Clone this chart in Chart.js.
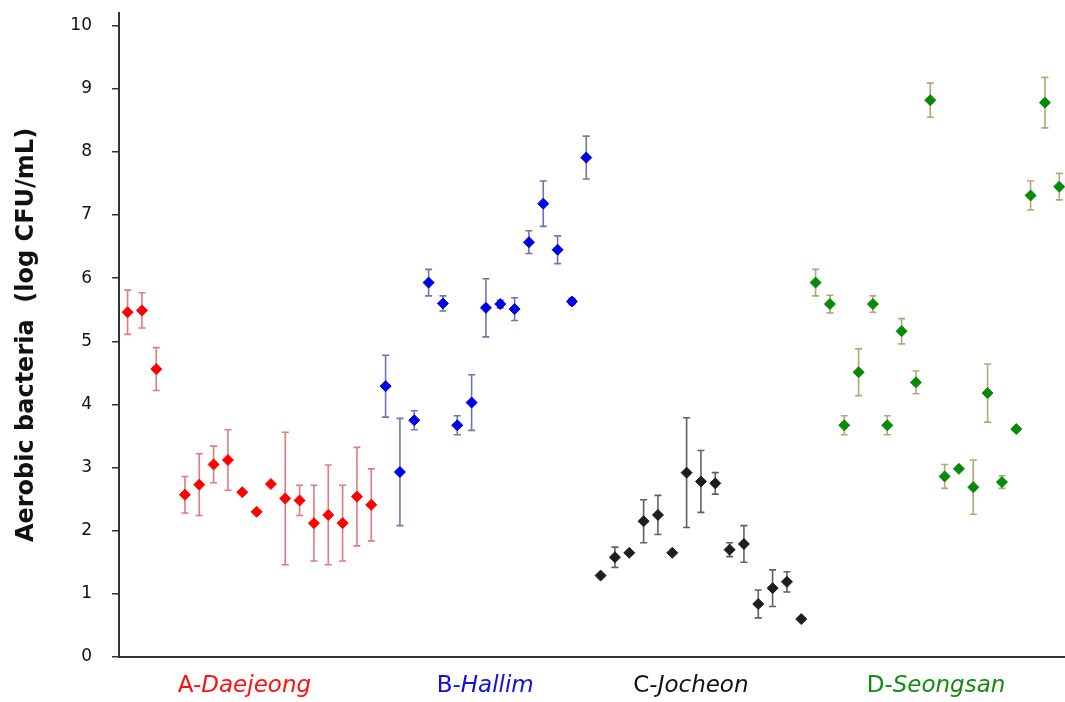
<!DOCTYPE html>
<html>
<head>
<meta charset="utf-8">
<script src="https://cdn.jsdelivr.net/npm/chart.js@4.4.1/dist/chart.umd.min.js"></script>
<style>
  html, body { margin: 0; padding: 0; background: #ffffff; overflow: hidden; }
  #wrap { width: 1065px; height: 702px; }
</style>
</head>
<body>
<div id="wrap"><canvas id="c" width="1065" height="702"></canvas></div>
<script>
// ---- Data ----
const groupPrefixes = ['A-', 'B-', 'C-', 'D-'];
const groupNames = ['Daejeong', 'Hallim', 'Jocheon', 'Seongsan'];

// Means (log CFU/mL); null = no sample in that slot
const aMean = [5.46, 5.49, 4.56, null, 2.57, 2.73, 3.05, 3.12, 2.61, 2.30, 2.74, 2.51, 2.48, 2.12, 2.25, 2.12, 2.54, 2.41];
const aErr  = [0.35, 0.28, 0.34, null, 0.29, 0.49, 0.29, 0.48, 0, 0, 0, 1.05, 0.24, 0.60, 0.79, 0.60, 0.78, 0.57];

const bMean = [4.29, 2.93, 3.75, 5.93, 5.60, 3.67, 4.03, 5.53, 5.59, 5.51, 6.57, 7.18, 6.45, 5.63, 7.91];
const bErr  = [0.49, 0.85, 0.15, 0.21, 0.12, 0.15, 0.44, 0.46, 0.06, 0.18, 0.18, 0.36, 0.22, 0.05, 0.34];

const cMean = [1.29, 1.58, 1.65, 2.15, 2.25, 1.65, 2.92, 2.78, 2.75, 1.70, 1.79, 0.84, 1.09, 1.19, 0.60];
const cErr  = [0, 0.16, 0, 0.34, 0.31, 0, 0.87, 0.49, 0.17, 0.11, 0.29, 0.22, 0.29, 0.16, 0];

const dMean = [5.93, 5.59, 3.67, 4.51, 5.59, 3.67, 5.16, 4.35, 8.82, 2.86, 2.98, 2.69, 4.18, 2.77, 3.61, 7.31, 8.78, 7.45];
const dErr  = [0.21, 0.14, 0.15, 0.37, 0.13, 0.15, 0.20, 0.18, 0.27, 0.19, 0, 0.43, 0.46, 0.10, 0.03, 0.23, 0.40, 0.21];

const yTicks = [0, 1, 2, 3, 4, 5, 6, 7, 8, 9, 10];

// ---- Styles ----
const markerColors = ['#ff0000', '#0000e6', '#1e1e1e', '#078a07'];
const errColors = ['#e07b7b', '#6b77a6', '#606060', '#b3a67a'];
const labelColors = ['#ff1010', '#1010e0', '#111111', '#138a13'];
const labelCenters = [8.15, 24.95, 39.3, 56.4]; // in sample-slot units

const means = [aMean, bMean, cMean, dMean];
const errs = [aErr, bErr, cErr, dErr];

let start = 0;
const datasets = means.map((m, g) => {
  const pts = [];
  const e = [];
  m.forEach((v, i) => {
    if (v !== null) { pts.push({ x: start + i, y: v }); e.push(errs[g][i]); }
  });
  start += m.length;
  return {
    label: groupPrefixes[g] + groupNames[g],
    data: pts,
    errors: e,
    errorColor: errColors[g],
    pointStyle: 'rectRot',
    pointRadius: 5.5,
    pointHoverRadius: 5.5,
    borderWidth: 1,
    backgroundColor: markerColors[g],
    borderColor: markerColors[g],
    showLine: false,
    clip: false
  };
});
const totalSlots = start;

const errorBarPlugin = {
  id: 'errorBars',
  beforeDatasetsDraw(chart) {
    const ctx = chart.ctx;
    const xs = chart.scales.x, ys = chart.scales.y;
    ctx.save();
    chart.data.datasets.forEach(ds => {
      ctx.strokeStyle = ds.errorColor;
      ctx.lineWidth = 1.6;
      ds.data.forEach((p, i) => {
        const e = ds.errors[i];
        if (!e) return;
        const x = xs.getPixelForValue(p.x);
        const yt = ys.getPixelForValue(p.y + e);
        const yb = ys.getPixelForValue(p.y - e);
        ctx.beginPath();
        ctx.moveTo(x, yt); ctx.lineTo(x, yb);
        ctx.moveTo(x - 3.5, yt); ctx.lineTo(x + 3.5, yt);
        ctx.moveTo(x - 3.5, yb); ctx.lineTo(x + 3.5, yb);
        ctx.stroke();
      });
    });
    ctx.restore();
  }
};

const groupLabelPlugin = {
  id: 'groupLabels',
  afterDraw(chart) {
    const ctx = chart.ctx;
    const xs = chart.scales.x;
    ctx.save();
    ctx.textBaseline = 'alphabetic';
    const base = chart.chartArea.bottom + 35;
    groupPrefixes.forEach((pre, g) => {
      const fPre = '23px "DejaVu Sans"';
      const fName = 'italic 23px "DejaVu Sans"';
      ctx.font = fPre; const w1 = ctx.measureText(pre).width;
      ctx.font = fName; const w2 = ctx.measureText(groupNames[g]).width;
      const cx = xs.getPixelForValue(labelCenters[g]);
      const x0 = cx - (w1 + w2) / 2;
      ctx.fillStyle = labelColors[g];
      ctx.textAlign = 'left';
      ctx.font = fPre; ctx.fillText(pre, x0, base);
      ctx.font = fName; ctx.fillText(groupNames[g], x0 + w1, base);
    });
    ctx.restore();
  }
};

new Chart(document.getElementById('c'), {
  type: 'scatter',
  data: { datasets },
  plugins: [errorBarPlugin, groupLabelPlugin],
  options: {
    responsive: false,
    animation: false,
    events: [],
    layout: { autoPadding: false, padding: { top: 13, right: 0, bottom: 0, left: 0 } },
    plugins: { legend: { display: false }, tooltip: { enabled: false } },
    scales: {
      x: {
        type: 'linear',
        min: -0.6,
        max: totalSlots - 0.6,
        grid: { display: false, drawTicks: false },
        ticks: { display: false },
        border: { display: true, color: '#333333', width: 2 },
        afterFit(s) { s.height = 45; s.paddingLeft = 0; s.paddingRight = 0; }
      },
      y: {
        type: 'linear',
        min: 0,
        max: 10.2,
        afterBuildTicks(s) { s.ticks = yTicks.map(v => ({ value: v })); },
        grid: { display: true, drawOnChartArea: false, drawTicks: true, tickLength: 7, color: '#333333', lineWidth: 1.5 },
        border: { display: true, color: '#333333', width: 2 },
        ticks: { padding: 20, color: '#111111', font: { family: '"DejaVu Sans"', size: 17 } },
        title: {
          display: true,
          text: 'Aerobic bacteria  (log CFU/mL)',
          color: '#111111',
          font: { family: '"DejaVu Sans"', size: 24, weight: 'bold' },
          padding: { top: 12, bottom: 0 }
        },
        afterFit(s) { s.width = 119; s.paddingTop = 0; s.paddingBottom = 0; }
      }
    }
  }
});
</script>
</body>
</html>
